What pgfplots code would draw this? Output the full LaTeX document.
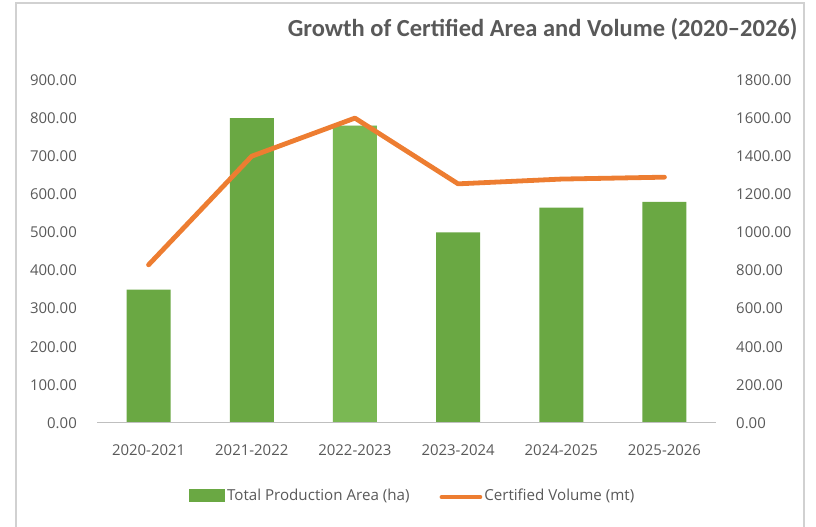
\documentclass[border=0pt]{standalone}
\usepackage{pgfplots}
\pgfplotsset{compat=1.18}
\usepackage{fontspec}
\setmainfont{Open Sans}
\newfontfamily\titlefont{Carlito}
\definecolor{txt}{HTML}{595959}
\definecolor{barg}{HTML}{6AA843}
\definecolor{barl}{HTML}{7AB853}
\definecolor{lineo}{HTML}{ED7D31}
\begin{document}
\begin{tikzpicture}[x=1bp,y=1bp]
\useasboundingbox (0,0) rectangle (816,527);
\draw[black!18, line width=1.2bp] (16,-5) -- (16,524) -- (804,524) -- (804,-5);
\node[anchor=base east, font=\titlefont\bfseries\fontsize{24.6}{28}\selectfont, text=txt] at (801,490) {Growth of Certified Area and Volume (2020–2026)};
\begin{axis}[at={(97bp,104bp)}, anchor=south west, scale only axis,
  width=619bp, height=343bp,
  xmin=-0.5, xmax=5.5, ymin=0, ymax=900,
  xtick={0,...,5},
  xticklabels={2020-2021,2021-2022,2022-2023,2023-2024,2024-2025,2025-2026},
  ytick={0,100,...,900},
  axis line style={draw=none}, major tick length=0pt,
  /pgf/number format/assume math mode=true,
  /pgf/number format/fixed, /pgf/number format/fixed zerofill,
  /pgf/number format/precision=2, /pgf/number format/1000 sep={},
  every tick label/.append style={font=\fontsize{15}{18}\selectfont, text=txt},
  yticklabel style={inner sep=0pt, anchor=east, xshift=-20bp},
  xticklabel style={inner sep=0pt, anchor=north, yshift=-21bp},
  clip=false,
]
\addplot[ybar, bar width=44bp, bar shift=0pt, fill=barg, draw=none] coordinates {(0,350) (1,800) (2,780) (3,500) (4,565) (5,580)};
\addplot[ybar, bar width=44bp, bar shift=0pt, fill=barl, draw=none, forget plot] coordinates {(2,780)};
\draw[black!25, line width=1bp] (axis cs:-0.5,0) -- (axis cs:5.5,0);
\end{axis}
\begin{axis}[at={(97bp,104bp)}, anchor=south west, scale only axis,
  width=619bp, height=343bp,
  xmin=-0.5, xmax=5.5, ymin=0, ymax=1800,
  axis y line*=right, axis x line=none,
  ytick={0,200,...,1800},
  axis line style={draw=none}, major tick length=0pt,
  /pgf/number format/assume math mode=true,
  /pgf/number format/fixed, /pgf/number format/fixed zerofill,
  /pgf/number format/precision=2, /pgf/number format/1000 sep={},
  every tick label/.append style={font=\fontsize{15}{18}\selectfont, text=txt},
  yticklabel style={inner sep=0pt, anchor=west, xshift=20bp},
  clip=false,
  legend style={at={(0.51,-0.21)}, anchor=center, draw=none, fill=none,
    font=\fontsize{15.2}{18}\selectfont, text=txt, legend columns=2,
    /tikz/every even column/.append style={column sep=28bp}},
  legend cell align=left,
]
\addlegendimage{area legend, fill=barg, draw=none, legend image code/.code={\fill[barg] (0bp,-6.5bp) rectangle (36bp,6.5bp);}}
\addlegendentry{Total Production Area (ha)}
\addplot[lineo, line width=4.8bp, line join=round, line cap=round,
  legend image code/.code={\draw[lineo, line width=4.8bp, line cap=round] (0bp,-2bp) -- (38bp,-2bp);}]
  coordinates {(0,830) (1,1400) (2,1600) (3,1255) (4,1280) (5,1290)};
\addlegendentry{Certified Volume (mt)}
\end{axis}
\end{tikzpicture}
\end{document}
